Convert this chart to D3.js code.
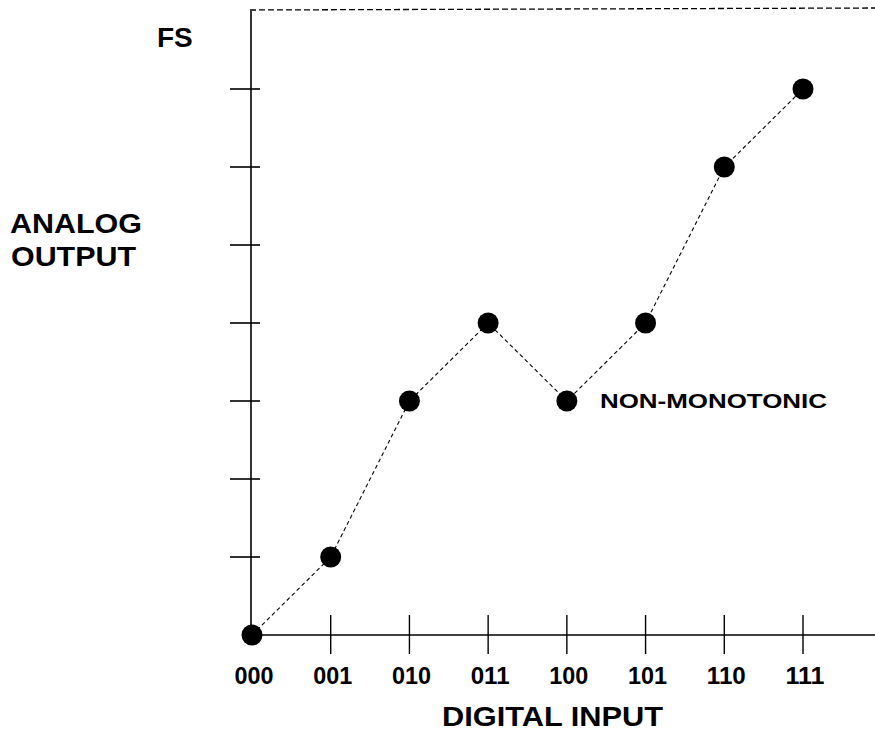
<!DOCTYPE html>
<html>
<head>
<meta charset="utf-8">
<script src="https://cdn.jsdelivr.net/npm/d3@7"></script>
<style>
  body { margin: 0; background: #fff; }
  text { font-family: "Liberation Sans", Arial, sans-serif; font-weight: bold; fill: #000; }
</style>
</head>
<body>
<svg id="graph"></svg>
<script>
var width = 875, height = 735;

// digital codes and analog output (in LSB steps)
var codes = ['000', '001', '010', '011', '100', '101', '110', '111'];
var outputs = [0, 1, 3, 4, 3, 4, 6, 7];
var yTicks = [1, 2, 3, 4, 5, 6, 7];
var fullScale = 8;

var svg = d3.select("#graph")
	.attr("width", width)
	.attr("height", height);

var x0 = 252, y0 = 635;
var x = d3.scaleLinear().domain([0, 7]).range([x0, 803]);
var y = d3.scaleLinear().domain([0, fullScale]).range([y0, 11]);

// full scale dashed line
svg.append("line")
	.attr("x1", x0 - 2).attr("x2", width)
	.attr("y1", y(fullScale) - 1).attr("y2", y(fullScale) - 3)
	.attr("stroke", "#000")
	.attr("stroke-width", 1.3)
	.attr("stroke-dasharray", "6,3");

// axes
svg.append("line")
	.attr("x1", x0 - 1).attr("x2", x0 - 1)
	.attr("y1", y(fullScale)).attr("y2", y0)
	.attr("stroke", "#000").attr("stroke-width", 1.6);
svg.append("line")
	.attr("x1", x0).attr("x2", width)
	.attr("y1", y0).attr("y2", y0)
	.attr("stroke", "#000").attr("stroke-width", 1.6);

// y ticks
svg.selectAll(".ytick")
	.data(yTicks)
	.enter()
	.append("line")
	.attr("class", "ytick")
	.attr("x1", x0 - 22).attr("x2", x0 + 8)
	.attr("y1", d => y(d)).attr("y2", d => y(d))
	.attr("stroke", "#000").attr("stroke-width", 1.6);

// x ticks
svg.selectAll(".xtick")
	.data(codes.slice(1))
	.enter()
	.append("line")
	.attr("class", "xtick")
	.attr("x1", (d, i) => x(i + 1)).attr("x2", (d, i) => x(i + 1))
	.attr("y1", y0 - 20).attr("y2", y0 + 19)
	.attr("stroke", "#000").attr("stroke-width", 1.4);

// x tick labels
svg.selectAll(".xlabel")
	.data(codes)
	.enter()
	.append("text")
	.attr("class", "xlabel")
	.attr("x", (d, i) => x(i) + 2)
	.attr("y", 684)
	.attr("text-anchor", "middle")
	.attr("font-size", "23px")
	.attr("textLength", 39)
	.attr("lengthAdjust", "spacingAndGlyphs")
	.text(d => d);

// dashed transfer curve
var line = d3.line()
	.x((d, i) => x(i))
	.y(d => y(d));
svg.append("path")
	.datum(outputs)
	.attr("d", line)
	.attr("fill", "none")
	.attr("stroke", "#000")
	.attr("stroke-width", 1.1)
	.attr("stroke-dasharray", "4,3");

svg.selectAll(".dot")
	.data(outputs)
	.enter()
	.append("circle")
	.attr("class", "dot")
	.attr("cx", (d, i) => x(i))
	.attr("cy", d => y(d))
	.attr("r", 10.5)
	.attr("fill", "#000");

// labels
svg.append("text")
	.attr("x", 157).attr("y", 47)
	.attr("font-size", "28px")
	.text("FS");

var ylab = svg.append("text")
	.attr("font-size", "28px");
ylab.append("tspan").attr("x", 10).attr("y", 233)
	.attr("textLength", 132).attr("lengthAdjust", "spacingAndGlyphs")
	.text("ANALOG");
ylab.append("tspan").attr("x", 11).attr("y", 266)
	.attr("textLength", 125).attr("lengthAdjust", "spacingAndGlyphs")
	.text("OUTPUT");

svg.append("text")
	.attr("x", 442).attr("y", 726)
	.attr("font-size", "28px")
	.attr("textLength", 221)
	.attr("lengthAdjust", "spacingAndGlyphs")
	.text("DIGITAL INPUT");

svg.append("text")
	.attr("x", 600).attr("y", 408)
	.attr("font-size", "21px")
	.attr("textLength", 227)
	.attr("lengthAdjust", "spacingAndGlyphs")
	.text("NON-MONOTONIC");
</script>
</body>
</html>
